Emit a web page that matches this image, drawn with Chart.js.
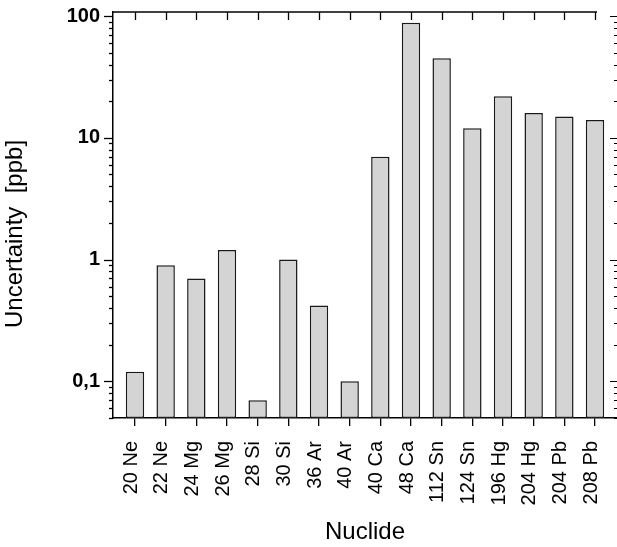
<!DOCTYPE html>
<html><head><meta charset="utf-8">
<script src="https://cdn.jsdelivr.net/npm/chart.js@4.4.1/dist/chart.umd.min.js"></script>
<style>html,body{margin:0;padding:0;background:#fff;}</style>
</head><body>
<canvas id="c" width="617" height="547" style="display:block;width:617px;height:547px"></canvas>
<script>
const categories = ['20 Ne','22 Ne','24 Mg','26 Mg','28 Si','30 Si','36 Ar','40 Ar','40 Ca','48 Ca','112 Sn','124 Sn','196 Hg','204 Hg','204 Pb','208 Pb'];
const uncertainty = [0.12, 0.9, 0.7, 1.2, 0.07, 1.0, 0.42, 0.1, 7, 88, 45, 12, 22, 16, 15, 14];
const yMajorTicks = [0.1, 1, 10, 100];
const yMajorLabels = ['0,1', '1', '10', '100'];
const xTitle = 'Nuclide';
const yTitle = 'Uncertainty  [ppb]';

const FONT = "'Liberation Sans', Arial, Helvetica, sans-serif";

function isMajor(v) {
  const l = Math.log10(v);
  return Math.abs(l - Math.round(l)) < 1e-6;
}
function isDecadeStep(v) {
  const e = Math.floor(Math.log10(v) + 1e-9);
  const m = v / Math.pow(10, e);
  return Math.abs(m - Math.round(m)) < 1e-6;
}

const framePlugin = {
  id: 'frame',
  afterDraw(chart) {
    const ctx = chart.ctx;
    const a = chart.chartArea;
    const xs = chart.scales.x, ys = chart.scales.y;
    ctx.save();
    ctx.strokeStyle = '#000';
    ctx.lineWidth = 1.5;
    // top axis line
    ctx.beginPath();
    ctx.moveTo(a.left, a.top);
    ctx.lineTo(xs.getPixelForValue(categories.length - 1) + 2, a.top);
    ctx.stroke();
    // top ticks (inward)
    ctx.lineWidth = 1.3;
    categories.forEach((c, i) => {
      const x = Math.round(xs.getPixelForValue(i)) + 0.5;
      ctx.beginPath();
      ctx.moveTo(x, a.top);
      ctx.lineTo(x, a.top + 8);
      ctx.stroke();
    });
    // y ticks
    ys.ticks.forEach(t => {
      const v = t.value;
      if (!isDecadeStep(v)) return;
      const y = Math.round(ys.getPixelForValue(v)) + 0.5;
      const maj = isMajor(v);
      ctx.lineWidth = 1.3;
      ctx.beginPath();
      ctx.moveTo(a.left - (maj ? 9 : 4), y);
      ctx.lineTo(a.left, y);
      ctx.stroke();
      ctx.lineWidth = 1;
      ctx.beginPath();
      ctx.moveTo(a.right - (maj ? 7 : 3), y);
      ctx.lineTo(a.right, y);
      ctx.stroke();
    });
    // y title
    ctx.fillStyle = '#000';
    ctx.font = "24px " + FONT;
    ctx.textAlign = 'center';
    ctx.textBaseline = 'alphabetic';
    ctx.translate(22, (a.top + a.bottom) / 2 + 19);
    ctx.rotate(-Math.PI / 2);
    ctx.fillText(yTitle, 0, 0);
    ctx.restore();
  }
};

new Chart(document.getElementById('c'), {
  type: 'bar',
  data: {
    datasets: [{
      data: categories.map((c, i) => ({x: i, y: uncertainty[i]})),
      backgroundColor: '#d4d4d4',
      borderColor: '#1a1a1a',
      borderWidth: 1.5,
      borderSkipped: false,
      barPercentage: 0.6,
      categoryPercentage: 1.0
    }]
  },
  options: {
    responsive: false,
    animation: false,
    devicePixelRatio: 1,
    layout: {padding: {top: 12, right: 0, left: 0, bottom: 0}},
    plugins: {legend: {display: false}, tooltip: {enabled: false}},
    scales: {
      x: {
        type: 'linear',
        position: 'bottom',
        offset: false,
        min: -0.717,
        max: categories.length - 1 + 0.717,
        afterFit(s) { s.height = 129; s.paddingLeft = 0; s.paddingRight = 0; },
        ticks: {
          stepSize: 1,
          includeBounds: false,
          autoSkip: false,
          minRotation: 90,
          maxRotation: 90,
          padding: 15,
          labelOffset: -4,
          color: '#000',
          font: {family: FONT, size: 20},
          callback: (v) => (Number.isInteger(v) && categories[v] !== undefined) ? categories[v] : ''
        },
        grid: {display: true, offset: false, drawOnChartArea: false, drawTicks: true, tickLength: 8, color: '#000', lineWidth: 1.3},
        border: {display: true, color: '#000', width: 1.5},
        title: {display: true, text: xTitle, color: '#000', font: {family: FONT, size: 24}, padding: {top: 0, bottom: 0}}
      },
      y: {
        type: 'logarithmic',
        min: 0.05,
        max: 108,
        afterFit(s) { s.width = 113; s.paddingTop = 0; s.paddingBottom = 0; },
        ticks: {
          autoSkip: false,
          padding: 13,
          color: '#000',
          font: {family: FONT, size: 20, weight: 'bold'},
          callback: (v) => {
            if (!isMajor(v)) return '';
            const idx = yMajorTicks.findIndex(m => Math.abs(Math.log10(m) - Math.log10(v)) < 1e-6);
            return idx >= 0 ? yMajorLabels[idx] : '';
          }
        },
        grid: {display: false, drawTicks: false},
        border: {display: true, color: '#000', width: 1.5}
      }
    }
  },
  plugins: [framePlugin]
});
</script>
</body></html>
